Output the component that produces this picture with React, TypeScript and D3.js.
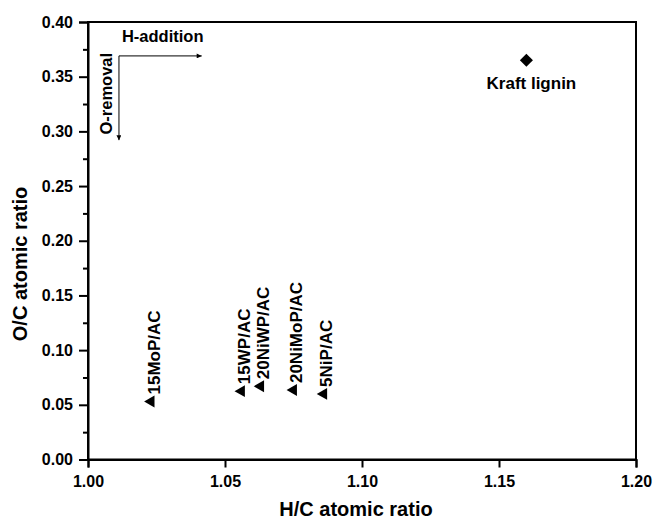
import React, { useEffect, useRef } from "react";
import * as d3 from "d3";

const sampleNames = ["15MoP/AC", "15WP/AC", "20NiWP/AC", "20NiMoP/AC", "5NiP/AC"];
const sampleHC = [1.023, 1.056, 1.063, 1.075, 1.086];
const sampleOC = [0.053, 0.0625, 0.067, 0.0635, 0.060];

const ligninName = ["Kraft lignin"];
const ligninHC = [1.16];
const ligninOC = [0.365];

const xTicks = [1.0, 1.05, 1.1, 1.15, 1.2];
const yTicks = [0, 0.05, 0.1, 0.15, 0.2, 0.25, 0.3, 0.35, 0.4];
const yMinorTicks = [0.025, 0.075, 0.125, 0.175, 0.225, 0.275, 0.325, 0.375];

const xTitle = "H/C atomic ratio";
const yTitle = "O/C atomic ratio";
const arrowLabels = ["H-addition", "O-removal"];
// arrow origin and ends in data coords
const arrowOrigin = [1.0113, 0.369];
const arrowHEnd = [1.0415];
const arrowOEnd = [0.292];

const W = 653;
const H = 519;
const FONT = "'Liberation Sans', Arial, Helvetica, sans-serif";

export default function App() {
  const ref = useRef<SVGSVGElement>(null);
  useEffect(() => {
    const svg = d3.select(ref.current);
    svg.selectAll("*").remove();
    const x = d3.scaleLinear().domain([1.0, 1.2]).range([88, 636]);
    const y = d3.scaleLinear().domain([0, 0.4]).range([459.5, 22]);

    svg.append("rect").attr("width", W).attr("height", H).attr("fill", "#fff");

    const defs = svg.append("defs");
    defs
      .append("marker")
      .attr("id", "arrowhead")
      .attr("viewBox", "0 0 10 10")
      .attr("refX", 10)
      .attr("refY", 5)
      .attr("markerWidth", 9)
      .attr("markerHeight", 5)
      .attr("markerUnits", "userSpaceOnUse")
      .attr("orient", "auto")
      .append("path")
      .attr("d", "M0,0 L10,5 L0,10 Z")
      .attr("fill", "#000");

    // Frame
    svg
      .append("rect")
      .attr("x", x(1.0))
      .attr("y", y(0.4))
      .attr("width", x(1.2) - x(1.0))
      .attr("height", y(0) - y(0.4))
      .attr("fill", "none")
      .attr("stroke", "#000")
      .attr("stroke-width", 2);

    // X axis
    const xAxis = d3
      .axisBottom(x)
      .tickValues(xTicks)
      .tickSize(8)
      .tickPadding(8)
      .tickFormat(d3.format(".2f"));
    const gx = svg.append("g").attr("transform", `translate(0,${y(0)})`).call(xAxis);
    gx.select(".domain").attr("stroke-width", 2);
    gx.selectAll(".tick line").attr("stroke-width", 2);
    gx.selectAll(".tick text")
      .attr("font-family", FONT)
      .attr("font-weight", "bold")
      .attr("font-size", 16)
      .attr("fill", "#000");

    // Y axis
    const yAxis = d3
      .axisLeft(y)
      .tickValues(yTicks)
      .tickSize(9)
      .tickPadding(6)
      .tickFormat(d3.format(".2f"));
    const gy = svg.append("g").attr("transform", `translate(${x(1.0)},0)`).call(yAxis);
    gy.select(".domain").attr("stroke-width", 2);
    gy.selectAll(".tick line").attr("stroke-width", 2);
    gy.selectAll(".tick text")
      .attr("font-family", FONT)
      .attr("font-weight", "bold")
      .attr("font-size", 16)
      .attr("fill", "#000");
    const yAxisMinor = d3.axisLeft(y).tickValues(yMinorTicks).tickSize(5).tickFormat(() => "");
    const gym = svg.append("g").attr("transform", `translate(${x(1.0)},0)`).call(yAxisMinor);
    gym.select(".domain").remove();
    gym.selectAll(".tick line").attr("stroke-width", 2);

    // Titles
    svg
      .append("text")
      .attr("x", 356)
      .attr("y", 516)
      .attr("text-anchor", "middle")
      .attr("font-family", FONT)
      .attr("font-weight", "bold")
      .attr("font-size", 20)
      .text(xTitle);
    svg
      .append("text")
      .attr("transform", `translate(27,264) rotate(-90)`)
      .attr("text-anchor", "middle")
      .attr("font-family", FONT)
      .attr("font-weight", "bold")
      .attr("font-size", 20)
      .text(yTitle);

    // Arrows
    const ox = x(arrowOrigin[0]);
    const oy = y(arrowOrigin[1]);
    svg
      .append("line")
      .attr("x1", ox)
      .attr("y1", oy)
      .attr("x2", x(arrowHEnd[0]))
      .attr("y2", oy)
      .attr("stroke", "#000")
      .attr("stroke-width", 1)
      .attr("marker-end", "url(#arrowhead)");
    svg
      .append("line")
      .attr("x1", ox)
      .attr("y1", oy)
      .attr("x2", ox)
      .attr("y2", y(arrowOEnd[0]))
      .attr("stroke", "#000")
      .attr("stroke-width", 1)
      .attr("marker-end", "url(#arrowhead)");
    svg
      .append("text")
      .attr("x", ox + 3)
      .attr("y", oy - 14)
      .attr("font-family", FONT)
      .attr("font-weight", "bold")
      .attr("font-size", 16.5)
      .text(arrowLabels[0]);
    svg
      .append("text")
      .attr("transform", `translate(${ox - 7},${oy - 3}) rotate(-90)`)
      .attr("text-anchor", "end")
      .attr("font-family", FONT)
      .attr("font-weight", "bold")
      .attr("font-size", 16.5)
      .text(arrowLabels[1]);

    // Samples
    const tri = d3.symbol().type(d3.symbolTriangle).size(62);
    const samples = sampleNames.map((n, i) => ({ n, hc: sampleHC[i], oc: sampleOC[i] }));
    const gs = svg.append("g");
    gs.selectAll("path.s")
      .data(samples)
      .join("path")
      .attr("class", "s")
      .attr("d", tri()!)
      .attr("transform", (d) => `translate(${x(d.hc)},${y(d.oc)}) rotate(-90)`)
      .attr("fill", "#000");
    gs.selectAll("text.s")
      .data(samples)
      .join("text")
      .attr("class", "s")
      .attr("transform", (d) => `translate(${x(d.hc) + 3},${y(d.oc) - 7}) rotate(-90)`)
      .attr("dominant-baseline", "central")
      .attr("font-family", FONT)
      .attr("font-weight", "bold")
      .attr("font-size", 17)
      .text((d) => d.n);

    // Kraft lignin
    const sq = d3.symbol().type(d3.symbolSquare).size(85);
    const lig = ligninName.map((n, i) => ({ n, hc: ligninHC[i], oc: ligninOC[i] }));
    svg
      .selectAll("path.l")
      .data(lig)
      .join("path")
      .attr("class", "l")
      .attr("d", sq()!)
      .attr("transform", (d) => `translate(${x(d.hc)},${y(d.oc)}) rotate(45)`)
      .attr("fill", "#000");
    svg
      .selectAll("text.l")
      .data(lig)
      .join("text")
      .attr("class", "l")
      .attr("x", (d) => x(d.hc) + 5)
      .attr("y", (d) => y(d.oc) + 29)
      .attr("text-anchor", "middle")
      .attr("font-family", FONT)
      .attr("font-weight", "bold")
      .attr("font-size", 17)
      .text((d) => d.n);
  }, []);

  return (
    <svg
      ref={ref}
      width={W}
      height={H}
      style={{ position: "absolute", left: 0, top: 0, display: "block" }}
    />
  );
}
